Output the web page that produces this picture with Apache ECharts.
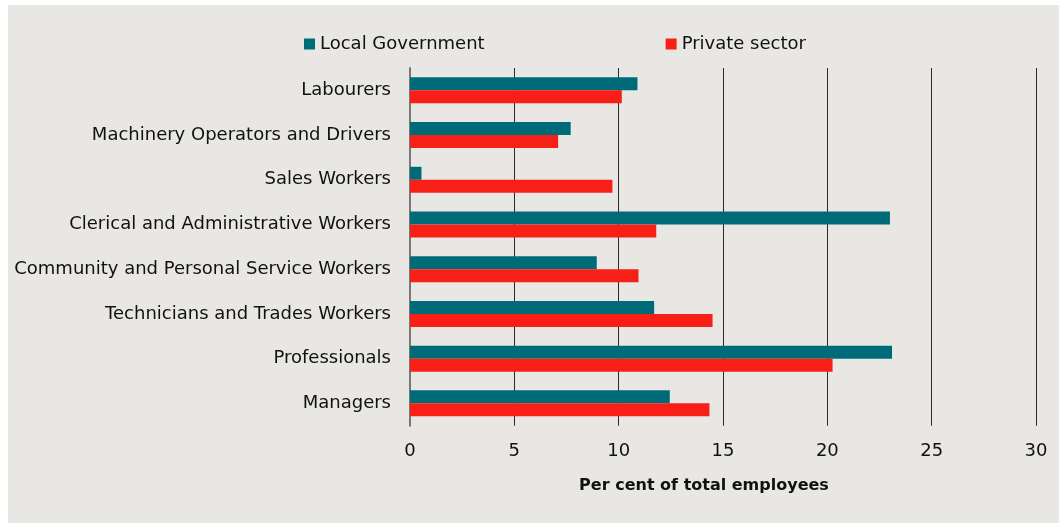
<!DOCTYPE html>
<html>
<head>
<meta charset="utf-8">
<script src="https://cdn.jsdelivr.net/npm/echarts@6/dist/echarts.min.js"></script>
<style>
  html, body { margin: 0; padding: 0; background: #ffffff; }
  #panel { position: absolute; left: 8px; top: 5px; right: 0; bottom: 0; background: #e8e7e3; }
  #chart { position: absolute; left: 0; top: 0; width: 1059px; height: 523px; }
</style>
</head>
<body>
<div id="panel"></div>
<div id="chart"></div>
<script>
// Occupation groups, listed top to bottom
const categories = [
  'Labourers',
  'Machinery Operators and Drivers',
  'Sales Workers',
  'Clerical and Administrative Workers',
  'Community and Personal Service Workers',
  'Technicians and Trades Workers',
  'Professionals',
  'Managers'
];
// Share of total employees (%)
const localGovernment = [10.9, 7.7, 0.55, 23.0, 8.95, 11.7, 23.1, 12.45];
const privateSector  = [10.15, 7.1, 9.7, 11.8, 10.95, 14.5, 20.25, 14.35];
const axisTicks = [0, 5, 10, 15, 20, 25, 30];

const FONT = '"DejaVu Sans", sans-serif';
const chart = echarts.init(document.getElementById('chart'), null, { renderer: 'canvas' });

chart.setOption({
  backgroundColor: 'transparent',
  animation: false,
  legend: {
    left: 304,
    top: 35,
    padding: 0,
    itemWidth: 11,
    itemHeight: 11,
    itemGap: 181,
    icon: 'rect',
    textStyle: { fontFamily: FONT, fontSize: 18, color: '#111' },
    data: ['Local Government', 'Private sector']
  },
  grid: { left: 410, right: 23, top: 68, bottom: 97.3, containLabel: false },
  xAxis: {
    type: 'value',
    min: axisTicks[0],
    max: axisTicks[axisTicks.length - 1],
    interval: axisTicks[1] - axisTicks[0],
    axisLine: { show: false },
    axisTick: { show: false },
    splitLine: { show: true, lineStyle: { color: '#2a2a2a', width: 1 } },
    axisLabel: { fontFamily: FONT, fontSize: 18, color: '#111', margin: 17 },
    name: 'Per cent of total employees',
    nameLocation: 'middle',
    nameGap: 52,
    nameTextStyle: { fontFamily: FONT, fontSize: 16, fontWeight: 'bold', color: '#111', padding: [0, 38, 0, 0] }
  },
  yAxis: {
    type: 'category',
    inverse: true,
    data: categories,
    axisLine: { show: true, lineStyle: { color: '#777', width: 2 } },
    axisTick: { show: false },
    axisLabel: { fontFamily: FONT, fontSize: 18, color: '#111', margin: 19 }
  },
  series: [
    {
      name: 'Local Government',
      type: 'bar',
      data: localGovernment,
      barWidth: 13,
      barGap: '0%',
      itemStyle: { color: '#006b78' }
    },
    {
      name: 'Private sector',
      type: 'bar',
      data: privateSector,
      barWidth: 13,
      barGap: '0%',
      itemStyle: { color: '#f71f16' }
    }
  ]
});
</script>
</body>
</html>
